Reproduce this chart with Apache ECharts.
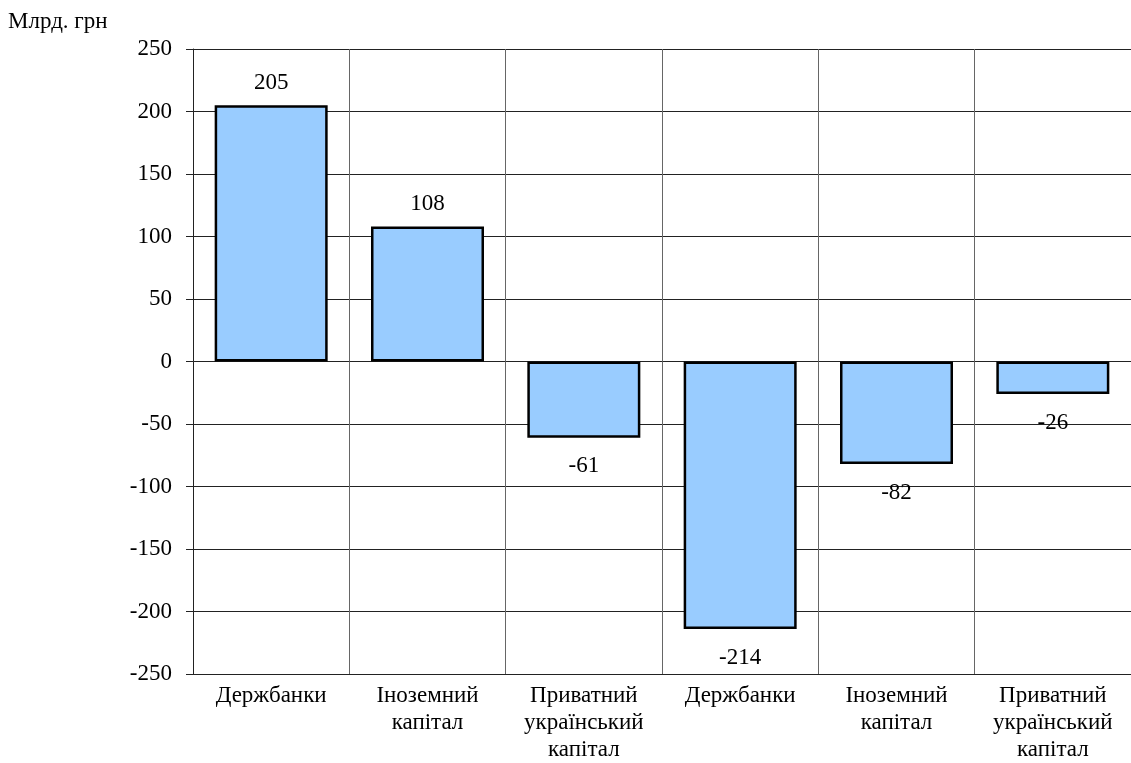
<!DOCTYPE html>
<html>
<head>
<meta charset="utf-8">
<script src="https://cdn.jsdelivr.net/npm/echarts@6/dist/echarts.min.js"></script>
<style>
  html, body { margin: 0; padding: 0; background: #fff; }
  #chart { width: 1131px; height: 763px; }
</style>
</head>
<body>
<div id="chart"></div>
<script>
// Categories (two groups of bank ownership types)
const categories = [
  'Держбанки', 'Іноземний\nкапітал', 'Приватний\nукраїнський\nкапітал',
  'Держбанки', 'Іноземний\nкапітал', 'Приватний\nукраїнський\nкапітал'
];
// Values, billion UAH
const values = [205, 108, -61, -214, -82, -26];
// Value-axis range and step
const yMin = -250;
const yMax = 250;
const yStep = 50;
const unitLabel = 'Млрд. грн';

const font = '"Liberation Serif", "Times New Roman", serif';
const fs = 23;

const chart = echarts.init(document.getElementById('chart'), null, { renderer: 'canvas' });

const barData = values.map(v => ({
  value: v,
  label: {
    position: v >= 0 ? 'top' : 'bottom',
    distance: v >= 0 ? 11 : 17
  }
}));

chart.setOption({
  animation: false,
  backgroundColor: '#ffffff',
  textStyle: { fontFamily: font },
  grid: { left: 193, right: -3, top: 49, bottom: 86, containLabel: false },
  graphic: [{
    type: 'text',
    left: 8,
    top: 10,
    style: { text: unitLabel, font: fs + 'px ' + font, fill: '#000' }
  }],
  xAxis: {
    type: 'category',
    data: categories,
    axisLine: { show: true, onZero: false, lineStyle: { color: '#222', width: 1 } },
    axisTick: { show: false },
    splitLine: { show: true, lineStyle: { color: '#666', width: 1 } },
    axisLabel: {
      color: '#000', fontSize: fs, fontFamily: font,
      lineHeight: 27, margin: 8, interval: 0
    }
  },
  yAxis: {
    type: 'value',
    min: yMin, max: yMax, interval: yStep,
    axisLine: { show: true, lineStyle: { color: '#222', width: 1 } },
    axisTick: { show: true, length: 7, lineStyle: { color: '#222' } },
    splitLine: { show: true, lineStyle: { color: '#222', width: 1 } },
    axisLabel: { color: '#000', fontSize: fs, fontFamily: font, margin: 21 }
  },
  series: [{
    type: 'bar',
    data: barData,
    barWidth: 113,
    itemStyle: { color: '#99ccff', borderColor: '#000', borderWidth: 2.5 },
    label: {
      show: true,
      color: '#000',
      fontSize: fs,
      fontFamily: font
    }
  }]
});
</script>
</body>
</html>
